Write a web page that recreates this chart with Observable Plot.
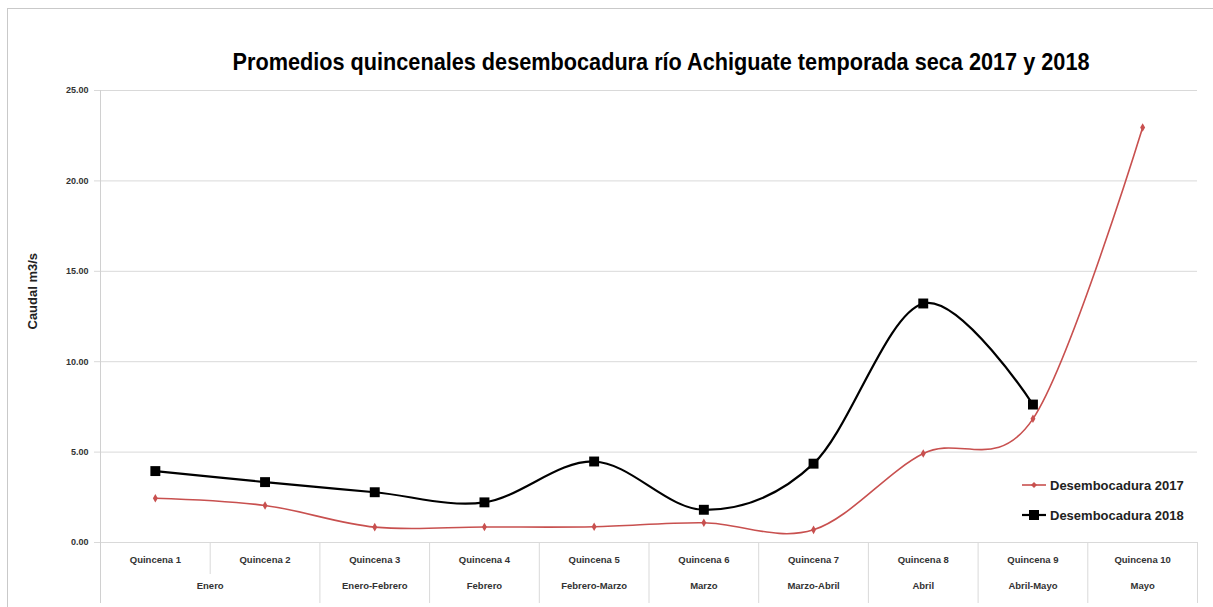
<!DOCTYPE html>
<html>
<head>
<meta charset="utf-8">
<script src="https://cdn.jsdelivr.net/npm/d3@7"></script>
<script src="https://cdn.jsdelivr.net/npm/@observablehq/plot@0.6"></script>
<style>
  html, body { margin: 0; padding: 0; background: #fff; overflow: hidden; }
  body { width: 1213px; height: 607px; position: relative; font-family: "Liberation Sans Narrow", "Arial Narrow", "Liberation Sans", sans-serif; }
  #frame { position: absolute; left: 7px; top: 8px; width: 1300px; height: 700px; border: 1px solid #c9c9c9; pointer-events: none; }
  #title { height: 80px; position: relative; }
  #title span { position: absolute; left: 661px; top: 48px; line-height: 28px; font-weight: bold; font-size: 24px; color: #000; white-space: nowrap; transform-origin: 0 50%; }
  #legend { position: absolute; left: 1020px; top: 470px; font-weight: bold; font-size: 13px; color: #222; }
  #legend div { display: flex; align-items: center; height: 30px; }
  #legend svg { margin-right: 2px; }
</style>
</head>
<body>
<div id="frame"></div>
<div id="title"><span id="titletext">Promedios quincenales desembocadura río Achiguate temporada seca 2017 y 2018</span></div>
<div id="chart"></div>
<div id="legend"></div>
<script>
const quincenas = ["Quincena 1","Quincena 2","Quincena 3","Quincena 4","Quincena 5","Quincena 6","Quincena 7","Quincena 8","Quincena 9","Quincena 10"];
const meses = ["Enero","Enero","Enero-Febrero","Febrero","Febrero-Marzo","Marzo","Marzo-Abril","Abril","Abril-Mayo","Mayo"];
const v2017 = [2.45, 2.05, 0.85, 0.86, 0.87, 1.09, 0.70, 4.92, 6.84, 22.95];
const v2018 = [3.95, 3.34, 2.78, 2.22, 4.48, 1.81, 4.36, 13.22, 7.63];
const yTicks = [0, 5, 10, 15, 20, 25];
const series = ["Desembocadura 2017", "Desembocadura 2018"];
const colors = {"Desembocadura 2017": "#c8504f", "Desembocadura 2018": "#000000"};

const W = 1213, H = 527, mL = 100, mR = 16, mT = 10, mB = 65;
const plotH = H - mT - mB;
const font = "Liberation Sans Narrow, Arial Narrow, Liberation Sans, sans-serif";

// fit title to the reference width (condensed look)
const tt = document.getElementById("titletext");
const tw = tt.getBoundingClientRect().width;
const sx = 857 / tw;
tt.style.transform = `translateX(${-857 / 2}px) scaleX(${sx})`;

const d17 = v2017.map((v, i) => ({x: i + 1, v}));
const d18 = v2018.map((v, i) => ({x: i + 1, v}));
const cats = quincenas.map((q, i) => ({x: i + 1, q}));

// month groups
const groups = [];
meses.forEach((m, i) => {
  const last = groups[groups.length - 1];
  if (last && last.m === m) last.idx.push(i + 1);
  else groups.push({m, idx: [i + 1]});
});
groups.forEach(g => g.x = d3.mean(g.idx));

// category boundaries
const fullBounds = [], shortBounds = [];
for (let k = 1; k <= quincenas.length; k++) {
  const b = {x: k + 0.5};
  if (k === quincenas.length || meses[k - 1] !== meses[k]) fullBounds.push(b);
  else shortBounds.push(b);
}

const txt = {fontFamily: font, fontWeight: "bold", fill: "#333"};

const chart = Plot.plot({
  width: W, height: H,
  marginLeft: mL, marginRight: mR, marginTop: mT, marginBottom: mB,
  style: {fontFamily: font, background: "transparent", overflow: "visible"},
  x: {domain: [0.5, quincenas.length + 0.5], axis: null},
  y: {domain: [0, 25], axis: null},
  marks: [
    Plot.ruleY(yTicks, {y: d => d, stroke: "#d9d9d9", strokeWidth: 1, insetLeft: -6}),
    Plot.text(yTicks, {y: d => d, text: d => d3.format(".2f")(d), frameAnchor: "left", textAnchor: "end", dx: -12, fontSize: 9, ...txt}),
    Plot.ruleX([0.5], {x: d => d, stroke: "#d0d0d0", insetBottom: -61}),
    Plot.ruleX(fullBounds, {x: "x", stroke: "#d9d9d9", insetTop: plotH, insetBottom: -61}),
    Plot.ruleX(shortBounds, {x: "x", stroke: "#d9d9d9", insetTop: plotH, insetBottom: -32}),
    Plot.text(cats, {x: "x", text: "q", frameAnchor: "bottom", dy: 20, fontSize: 9.5, ...txt}),
    Plot.text(groups, {x: "x", text: "m", frameAnchor: "bottom", dy: 46, fontSize: 9.5, ...txt}),
    Plot.text(["Caudal m3/s"], {frameAnchor: "left", dx: -68, dy: 13, rotate: -90, fontSize: 13, fontFamily: font, fontWeight: "bold", fill: "#222"}),
    Plot.line(d17, {x: "x", y: "v", curve: "cardinal", stroke: colors[series[0]], strokeWidth: 1.6}),
    Plot.line(d18, {x: "x", y: "v", curve: "cardinal", stroke: colors[series[1]], strokeWidth: 2.2}),
    Plot.dot(d17, {x: "x", y: "v", symbol: "diamond", r: 2.6, fill: colors[series[0]], stroke: "none"}),
    Plot.dot(d18, {x: "x", y: "v", symbol: "square", r: 5.6, fill: colors[series[1]], stroke: "none"})
  ]
});
document.getElementById("chart").appendChild(chart);

// legend
const legend = document.getElementById("legend");
series.forEach((s, i) => {
  const row = document.createElement("div");
  const sw = i === 0
    ? `<svg width="28" height="12"><line x1="2" x2="26" y1="6" y2="6" stroke="${colors[s]}" stroke-width="1.6"/><path d="M14,3 L17,6 L14,9 L11,6Z" fill="${colors[s]}"/></svg>`
    : `<svg width="28" height="12"><line x1="2" x2="26" y1="6" y2="6" stroke="${colors[s]}" stroke-width="2.2"/><rect x="9" y="1" width="10" height="10" fill="${colors[s]}"/></svg>`;
  row.innerHTML = sw + `<span>${s}</span>`;
  legend.appendChild(row);
});
</script>
</body>
</html>
